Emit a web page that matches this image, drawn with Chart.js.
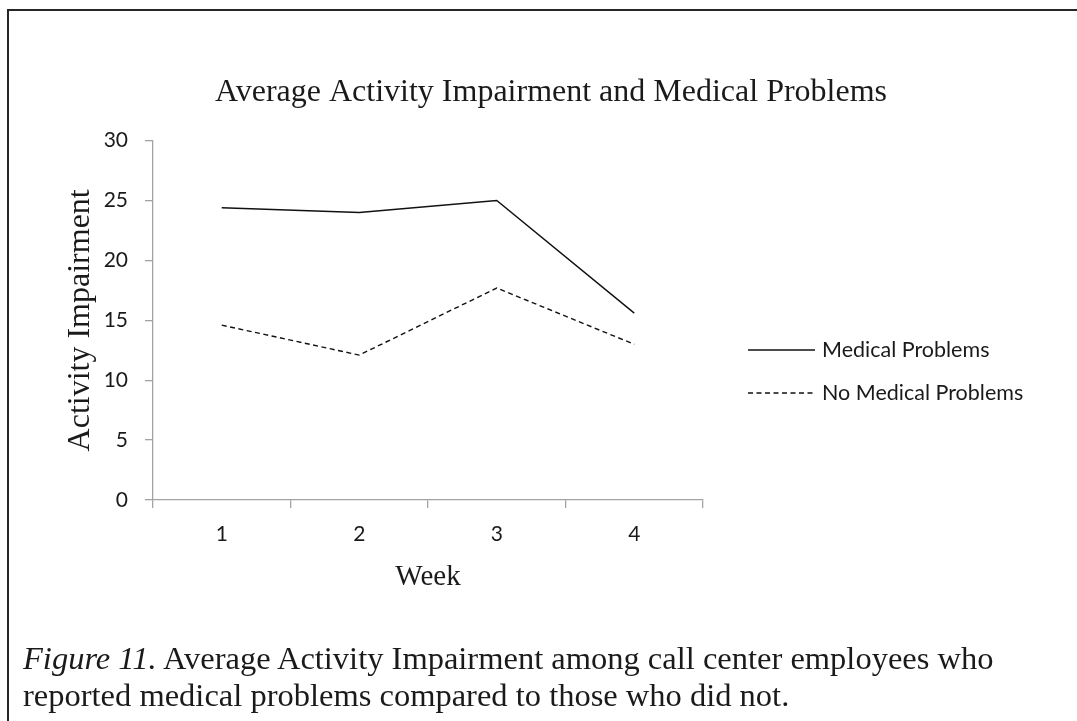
<!DOCTYPE html>
<html>
<head>
<meta charset="utf-8">
<script src="https://cdn.jsdelivr.net/npm/chart.js@4.4.0/dist/chart.umd.min.js"></script>
<style>
html,body{margin:0;padding:0;background:#fff;}
#wrap{position:relative;width:1077px;height:721px;overflow:hidden;background:#fff;}
#frame{position:absolute;left:7px;top:9px;width:1100px;height:740px;border-left:2px solid #262626;border-top:2px solid #262626;}
#c{position:absolute;left:0;top:0;}
#cap{position:absolute;left:23px;top:640px;font-family:"Liberation Serif",serif;font-size:32.5px;line-height:37px;color:#1a1a1a;white-space:nowrap;}
</style>
</head>
<body>
<div id="wrap">
  <div id="frame"></div>
  <canvas id="c" width="1077" height="721" style="width:1077px;height:721px"></canvas>
  <div id="cap"><i>Figure 11.</i> Average Activity Impairment among call center employees who<br>reported medical problems compared to those who did not.</div>
</div>
<script>
const weeks = ['1', '2', '3', '4'];
const medicalProblems = [24.4, 24.0, 25.0, 15.6];
const noMedicalProblems = [14.6, 12.1, 17.7, 13.0];
const yTickValues = [0, 5, 10, 15, 20, 25, 30];

const axisGray = '#a3a3a3';
const textDark = '#1a1a1a';

const sideLegend = {
  id: 'sideLegend',
  afterDraw(chart, args, opts) {
    const ctx = chart.ctx;
    chart.data.datasets.forEach((ds, i) => {
      const y = opts.rows[i];
      ctx.save();
      ctx.strokeStyle = ds.borderColor;
      ctx.lineWidth = ds.borderWidth;
      ctx.setLineDash(ds.borderDash || []);
      ctx.beginPath();
      ctx.moveTo(opts.lineStart, y);
      ctx.lineTo(opts.lineEnd, y);
      ctx.stroke();
      ctx.setLineDash([]);
      ctx.fillStyle = opts.color;
      ctx.font = opts.font;
      ctx.textBaseline = 'middle';
      ctx.textAlign = 'left';
      ctx.fillText(ds.label, opts.textStart, y);
      ctx.restore();
    });
  }
};

new Chart(document.getElementById('c'), {
  type: 'line',
  data: {
    labels: weeks,
    datasets: [
      {label: 'Medical Problems', data: medicalProblems, borderColor: '#111', borderWidth: 1.4, pointRadius: 0, tension: 0, fill: false},
      {label: 'No Medical Problems', data: noMedicalProblems, borderColor: '#111', borderWidth: 1.4, borderDash: [5, 3.5], pointRadius: 0, tension: 0, fill: false}
    ]
  },
  options: {
    responsive: false,
    animation: false,
    devicePixelRatio: 1,
    layout: {padding: {left: 26, right: 1, top: 0, bottom: 0}},
    plugins: {
      legend: {display: false},
      tooltip: {enabled: false},
      title: {
        display: true,
        text: 'Average Activity Impairment and Medical Problems',
        color: textDark,
        font: {family: 'Liberation Serif', size: 32, weight: 'normal'},
        padding: {top: 73, bottom: 29.3}
      },
      sideLegend: {
        rows: [350, 393],
        lineStart: 748, lineEnd: 815, textStart: 822,
        color: textDark,
        font: '21.5px Lato'
      }
    },
    scales: {
      x: {
        type: 'category',
        offset: true,
        grid: {display: true, drawOnChartArea: false, drawTicks: true, tickLength: 8, offset: true, color: axisGray, lineWidth: 1.3},
        border: {display: true, color: axisGray, width: 1.3},
        ticks: {color: textDark, font: {family: 'Lato', size: 21}, padding: 14},
        title: {display: true, text: 'Week', color: textDark, font: {family: 'Liberation Serif', size: 29}, padding: {top: 0, bottom: 126.4}},
        afterFit(s) { s.height = 221; }
      },
      y: {
        type: 'linear',
        min: 0, max: 30,
        afterBuildTicks(s) { s.ticks = yTickValues.map(v => ({value: v})); },
        grid: {display: true, drawOnChartArea: false, drawTicks: true, tickLength: 8, color: axisGray, lineWidth: 1.3},
        border: {display: true, color: axisGray, width: 1.3},
        ticks: {color: textDark, font: {family: 'Lato', size: 21}, padding: 17},
        title: {display: true, text: 'Activity Impairment', color: textDark, font: {family: 'Liberation Serif', size: 32}, padding: {top: 35, bottom: 0}},
        afterFit(s) { s.width = 127; }
      },
      spacer: {
        type: 'linear',
        position: 'right',
        display: true,
        grid: {display: false},
        ticks: {display: false},
        border: {display: false},
        afterFit(s) { s.width = 373; }
      }
    }
  },
  plugins: [sideLegend]
});
</script>
</body>
</html>
